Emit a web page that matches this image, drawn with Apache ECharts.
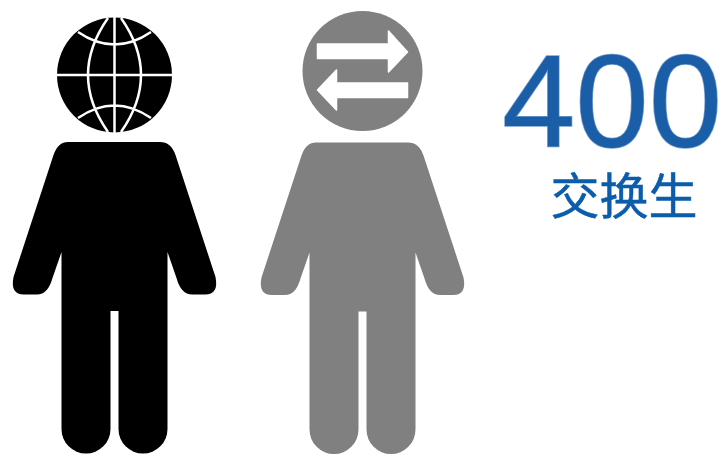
<!DOCTYPE html>
<html><head><meta charset="utf-8">
<style>html,body{margin:0;padding:0;background:#fff}#c{width:725px;height:454px}</style>
<script src="https://cdn.jsdelivr.net/npm/echarts@6/dist/echarts.min.js"></script>
</head><body><div id="c"></div>
<script>
const values = [400];
const labels = ['交换生'];

const personPath = 'M68 142 L160 142 Q171 142 175.5 155 L215.5 277 Q219 294.5 205 294.5 L192 294.5 Q181 294.5 176.5 278 L167.5 252 L167.5 429 A24.5 24.5 0 0 1 118.5 429 L118.5 311 L110.5 311 L110.5 429 A24.5 24.5 0 0 1 61.5 429 L61.5 252 L52.5 278 Q48 294.5 37 294.5 L24 294.5 Q10 294.5 13.5 277 L53.5 155 Q58 142 68 142 Z';
const globeLines = 'M114.5 17 L114.5 133 M57 75 L172 75 M108 18 Q68 75 108 132 M121 18 Q161 75 121 132 M78 32 Q114.5 57 151 32 M78 118 Q114.5 93 151 118';
const arrowTop = 'M317.5 44 L388.5 44 L388.5 31 L407.5 52 L388.5 72 L388.5 58.5 L317.5 58.5 Z';
const arrowBottom = 'M407.5 83 L336.5 83 L336.5 70 L317.5 90 L336.5 110 L336.5 97.5 L407.5 97.5 Z';

const chart = echarts.init(document.getElementById('c'));
chart.setOption({
  animation:false,
  backgroundColor:'#fff',
  series:[{
    type:'custom',
    coordinateSystem:'none',
    silent:true,
    data:values,
    renderItem:function(params, api){
      return {type:'group',children:[
        {type:'path',shape:{pathData:personPath},style:{fill:'#000'}},
        {type:'circle',shape:{cx:114.5,cy:75,r:57.5},style:{fill:'#000'}},
        {type:'path',shape:{pathData:globeLines},style:{fill:'none',stroke:'#fff',lineWidth:2.5}},
        {type:'path',x:248,y:0.5,shape:{pathData:personPath},style:{fill:'#808080'}},
        {type:'circle',shape:{cx:362.5,cy:71,r:60},style:{fill:'#808080'}},
        {type:'path',shape:{pathData:arrowTop},style:{fill:'#fff',stroke:'#fff',lineWidth:1.5,lineJoin:'round'}},
        {type:'path',shape:{pathData:arrowBottom},style:{fill:'#fff',stroke:'#fff',lineWidth:1.5,lineJoin:'round'}},
        {type:'text',x:612,y:110.5,style:{text:String(api.value(0)),fill:'#1a5ea8',stroke:'rgba(26,94,168,0.6)',lineWidth:1.5,
          font:'132px "Liberation Sans"',align:'center',verticalAlign:'middle',
          shadowBlur:6,shadowColor:'rgba(20,60,110,0.9)',shadowOffsetX:-1,shadowOffsetY:1}},
        {type:'text',x:624,y:195.5,style:{text:labels[0],fill:'#0b5cab',stroke:'#0b5cab',lineWidth:0.5,
          font:'49px "Noto Sans CJK SC"',align:'center',verticalAlign:'middle'}}
      ]};
    }
  }]
});
</script></body></html>
